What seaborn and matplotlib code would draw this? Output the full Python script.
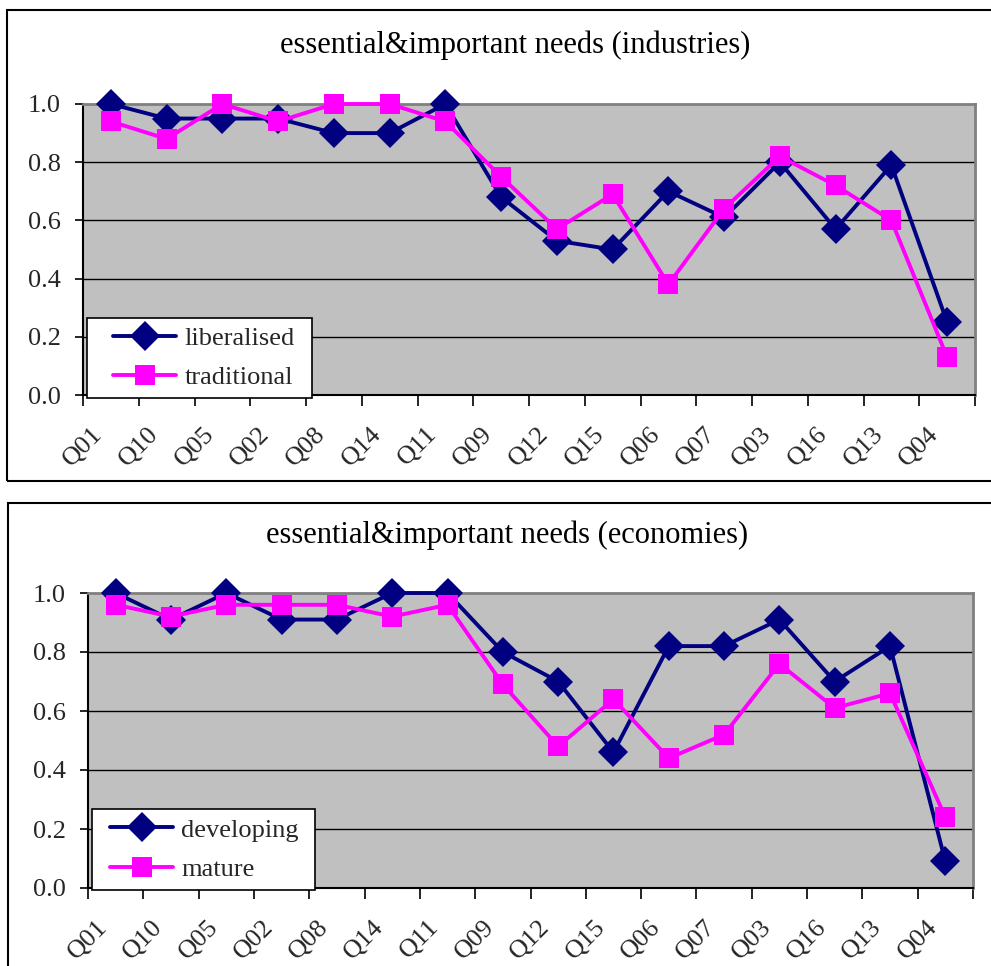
import matplotlib
matplotlib.use("Agg")
import matplotlib.pyplot as plt
import matplotlib.transforms as mtransforms
from matplotlib.patches import Rectangle
from matplotlib.ticker import FixedLocator, FormatStrFormatter
import numpy as np
import pandas as pd
import seaborn as sns

# Survey questions, ordered as on the category axis
questions = ["Q01", "Q10", "Q05", "Q02", "Q08", "Q14", "Q11", "Q09",
             "Q12", "Q15", "Q06", "Q07", "Q03", "Q16", "Q13", "Q04"]

# Share answering "essential" or "important", by industry type
liberalised = [1.00, 0.95, 0.95, 0.95, 0.90, 0.90, 1.00, 0.68,
               0.53, 0.50, 0.70, 0.61, 0.80, 0.57, 0.79, 0.25]
traditional = [0.94, 0.88, 1.00, 0.94, 1.00, 1.00, 0.94, 0.75,
               0.57, 0.69, 0.38, 0.64, 0.82, 0.72, 0.60, 0.13]

# Same measure, by economy type
developing = [1.00, 0.91, 1.00, 0.91, 0.91, 1.00, 1.00, 0.80,
              0.70, 0.46, 0.82, 0.82, 0.91, 0.70, 0.82, 0.09]
mature = [0.96, 0.92, 0.96, 0.96, 0.96, 0.92, 0.96, 0.69,
          0.48, 0.64, 0.44, 0.52, 0.76, 0.61, 0.66, 0.24]

titles = ["essential&important needs (industries)",
          "essential&important needs (economies)"]
series_names = [("liberalised", "traditional"), ("developing", "mature")]
yticks = [0.0, 0.2, 0.4, 0.6, 0.8, 1.0]

NAVY = "#000080"
MAGENTA = "#FF00FF"
PLOT_BG = "#C0C0C0"

sns.set_theme(style="white")
plt.rcParams["font.family"] = ["Liberation Serif", "DejaVu Serif"]

W, H = 991, 966
fig = plt.figure(figsize=(W / 100, H / 100), dpi=100)
fig.patch.set_facecolor("white")


def fig_rect(left, top, right, bottom):
    """Pixel box (from top-left) -> figure fraction [x0, y0, w, h]."""
    return [left / W, 1 - bottom / H, (right - left) / W, (bottom - top) / H]


def draw_panel(box, plot_px, title, title_xy, names, s1, s2, legend_px):
    # outer chart border
    bl, bt, br, bb = box
    fig.patches.append(Rectangle((bl / W, 1 - bb / H), (br - bl) / W, (bb - bt) / H,
                                 transform=fig.transFigure, fill=False,
                                 edgecolor="black", linewidth=1.5, zorder=0))
    fig.text(title_xy[0] / W, 1 - title_xy[1] / H, title,
             ha="center", va="center", fontsize=22, color="black")

    left, top, right, bottom = plot_px
    ax = fig.add_axes(fig_rect(left, top, right, bottom))
    ax.set_facecolor(PLOT_BG)

    df = pd.DataFrame({"question": questions * 2,
                       "share": list(s1) + list(s2),
                       "group": [names[0]] * len(questions) + [names[1]] * len(questions)})
    sns.lineplot(data=df[df.group == names[0]], x="question", y="share", ax=ax,
                 color=NAVY, linewidth=2.8, marker="D", markersize=15,
                 markeredgewidth=0, label=names[0], sort=False, zorder=3,
                 clip_on=False)
    sns.lineplot(data=df[df.group == names[1]], x="question", y="share", ax=ax,
                 color=MAGENTA, linewidth=2.8, marker="s", markersize=15,
                 markeredgewidth=0, label=names[1], sort=False, zorder=4,
                 clip_on=False)

    n = len(questions)
    ax.set_xlim(-0.5, n - 0.5)
    ax.set_ylim(0, 1.0)
    ax.set_xlabel("")
    ax.set_ylabel("")

    # horizontal gridlines
    for y in yticks[1:-1]:
        ax.axhline(y, color="black", linewidth=1, zorder=1)

    ax.yaxis.set_major_locator(FixedLocator(yticks))
    ax.yaxis.set_major_formatter(FormatStrFormatter("%.1f"))
    ax.tick_params(axis="y", which="major", direction="out", length=6, width=1.2,
                   color="black", labelsize=19, pad=10, left=True)

    ax.set_xticks(np.arange(n))
    ax.set_xticklabels(questions)
    ax.set_xticks(np.arange(n + 1) - 0.5, minor=True)
    ax.tick_params(axis="x", which="major", length=0, labelsize=19, pad=20,
                   bottom=True)
    ax.tick_params(axis="x", which="minor", direction="out", length=8, width=1.2,
                   color="black", bottom=True)
    shift = mtransforms.ScaledTranslation(-4 / 100, 0, fig.dpi_scale_trans)
    for lab in ax.get_xticklabels():
        lab.set_rotation(45)
        lab.set_ha("right")
        lab.set_va("top")
        lab.set_transform(lab.get_transform() + shift)

    for side in ("left", "bottom"):
        ax.spines[side].set_color("black")
        ax.spines[side].set_linewidth(1.5)
    for side in ("top", "right"):
        ax.spines[side].set_color("#808080")
        ax.spines[side].set_linewidth(2)
        ax.spines[side].set_zorder(2.5)

    # legend box
    ll, lt, lr, lb, hx = legend_px
    pw, ph = right - left, bottom - top
    ax.add_patch(Rectangle(((ll - left) / pw, (bottom - lb) / ph),
                           (lr - ll) / pw, (lb - lt) / ph,
                           transform=ax.transAxes, facecolor="white",
                           edgecolor="black", linewidth=1.2, zorder=6, clip_on=False))
    handles, labels = ax.get_legend_handles_labels()
    leg = ax.legend(handles, labels, loc="center left",
                    bbox_to_anchor=((hx - left) / pw, (bottom - (lt + lb) / 2) / ph),
                    borderaxespad=0, borderpad=0, frameon=False, fontsize=19,
                    handlelength=2.4, handletextpad=0.3, labelspacing=0.6)
    leg.set_zorder(7)
    return ax


draw_panel(box=(7, 10, 1005, 481), plot_px=(83, 104, 975, 395),
           title=titles[0], title_xy=(515, 45),
           names=series_names[0], s1=liberalised, s2=traditional,
           legend_px=(87, 318, 312, 398, 113))
draw_panel(box=(8, 503, 1005, 990), plot_px=(88, 593, 973, 888),
           title=titles[1], title_xy=(507, 535),
           names=series_names[1], s1=developing, s2=mature,
           legend_px=(92, 809, 315, 890, 110))

fig.savefig("out.png", dpi=100, facecolor="white")
